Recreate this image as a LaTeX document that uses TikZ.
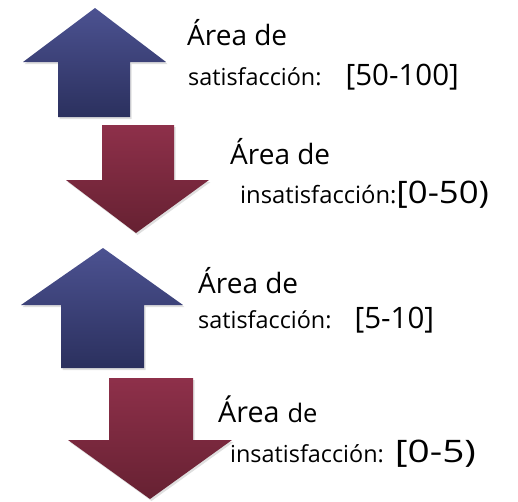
\documentclass[tikz,border=0pt]{standalone}
\usepackage{fontspec}
\setmainfont{Open Sans}
\usetikzlibrary{shadows}
\definecolor{azulclaro}{RGB}{76,82,145}
\definecolor{azuloscuro}{RGB}{43,48,94}
\definecolor{rojoclaro}{RGB}{142,48,74}
\definecolor{rojooscuro}{RGB}{102,33,50}
\newcommand{\letragrande}{\fontsize{28}{32}\selectfont}
\newcommand{\letrachica}{\fontsize{23.4}{26}\selectfont}
\newcommand{\letrarango}{\fontsize{29.5}{32}\selectfont}

\begin{document}
\begin{tikzpicture}[x=1pt,y=-1pt,
    sombra/.style={drop shadow={opacity=0.25,shadow xshift=1.5pt,shadow yshift=-2pt}},
    flecha sube/.style={sombra,top color=azulclaro,bottom color=azuloscuro},
    flecha baja/.style={sombra,top color=rojoclaro,bottom color=rojooscuro},
    texto/.style={anchor=base west,inner sep=0pt,text=black}]
        \useasboundingbox (0,0) rectangle (518,501);
        % Flechas hacia arriba (satisfacción)
        \path[flecha sube] (95,8) -- (166,62) -- (130,62) -- (130,117)
            -- (58,117) -- (58,62) -- (23,62) -- cycle;
        \path[flecha sube] (103,248) -- (183,305) -- (144,305) -- (144,368)
            -- (61,368) -- (61,305) -- (21,305) -- cycle;
        % Flechas hacia abajo (insatisfacción)
        \path[flecha baja] (102,125) -- (174,125) -- (174,180) -- (209,180)
            -- (136,233) -- (66,180) -- (102,180) -- cycle;
        \path[flecha baja] (109,378) -- (193,378) -- (193,440) -- (232,440)
            -- (150,499) -- (68,440) -- (109,440) -- cycle;
        % Textos de cada área
        \node[texto] (area1) at (187,45) {\letragrande Área de};
        \node[texto] (rango1) at (188,85)
            {{\letrachica satisfacción:}\hspace{24pt}{\letrarango [50-100]}};
        \node[texto] (area2) at (230,164) {\letragrande Área de};
        \node[texto] (rango2) at (240,203)
            {{\fontsize{23.8}{26}\selectfont insatisfacción:}\scalebox{1.12}[1]{\fontsize{31}{34}\selectfont [0-50)}};
        \node[texto] (area3) at (198,293) {\letragrande Área de};
        \node[texto] (rango3) at (198,328)
            {{\letrachica satisfacción:}\hspace{23pt}{\letrarango [5-10]}};
        \node[texto] (area4) at (218,422) {{\fontsize{28.7}{32}\selectfont Área}\hspace{8pt}{\fontsize{25.5}{28}\selectfont de}};
        \node[texto] (rango4) at (230,462)
            {{\letrachica insatisfacción:}\hspace{11pt}\scalebox{1.25}[1]{\fontsize{31}{34}\selectfont [0-5)}};
\end{tikzpicture}
\end{document}
